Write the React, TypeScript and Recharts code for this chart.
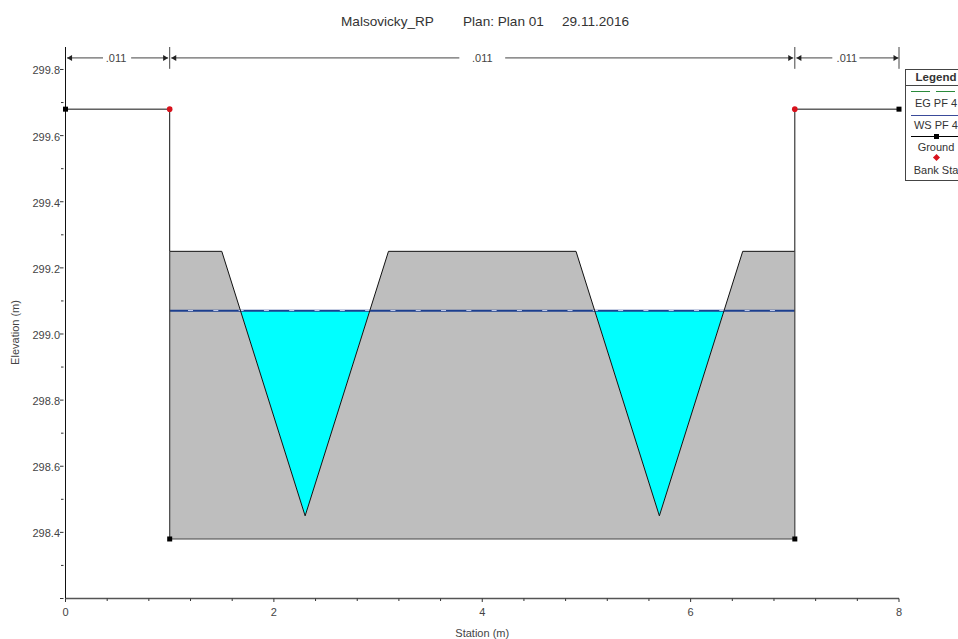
import React from 'react';
import { ComposedChart, Area, Line, XAxis, YAxis, ReferenceDot } from 'recharts';

const FONT = '"Liberation Sans", Arial, sans-serif';
const titleParts = [
  { left: 341, text: 'Malsovicky_RP' },
  { left: 463, text: 'Plan: Plan 01' },
  { left: 562, text: '29.11.2016' },
];

const xTicks = [0, 0.4, 0.8, 1.2, 1.6, 2, 2.4, 2.8, 3.2, 3.6, 4, 4.4, 4.8, 5.2, 5.6, 6, 6.4, 6.8, 7.2, 7.6, 8];
const xLabelled = [0, 2, 4, 6, 8];
const yTicks = [298.2, 298.3, 298.4, 298.5, 298.6, 298.7, 298.8, 298.9, 299, 299.1, 299.2, 299.3, 299.4, 299.5, 299.6, 299.7, 299.8];
const yLabelled = [298.4, 298.6, 298.8, 299, 299.2, 299.4, 299.6, 299.8];

const groundFill = [
  { x: 1, r: [298.38, 299.25] },
  { x: 1.5, r: [298.38, 299.25] },
  { x: 2.3, r: [298.38, 298.45] },
  { x: 3.1, r: [298.38, 299.25] },
  { x: 4.9, r: [298.38, 299.25] },
  { x: 5.7, r: [298.38, 298.45] },
  { x: 6.5, r: [298.38, 299.25] },
  { x: 7, r: [298.38, 299.25] },
];
const waterLeft = [
  { x: 1.68, r: [299.07, 299.07] },
  { x: 2.3, r: [298.45, 299.07] },
  { x: 2.92, r: [299.07, 299.07] },
];
const waterRight = [
  { x: 5.08, r: [299.07, 299.07] },
  { x: 5.7, r: [298.45, 299.07] },
  { x: 6.32, r: [299.07, 299.07] },
];
const groundTop = [
  { x: 0, y: 299.68 }, { x: 1, y: 299.68 }, { x: 1, y: 299.25 }, { x: 1.5, y: 299.25 },
  { x: 2.3, y: 298.45 }, { x: 3.1, y: 299.25 }, { x: 4.9, y: 299.25 }, { x: 5.7, y: 298.45 },
  { x: 6.5, y: 299.25 }, { x: 7, y: 299.25 }, { x: 7, y: 299.68 }, { x: 8, y: 299.68 },
];
const groundEdge = [
  { x: 1, y: 299.25 }, { x: 1, y: 298.38 }, { x: 7, y: 298.38 }, { x: 7, y: 299.25 },
];
const groundMarkers = [
  { x: 0, y: 299.68 }, { x: 8, y: 299.68 }, { x: 1, y: 298.38 }, { x: 7, y: 298.38 },
];
const bankMarkers = [{ x: 1, y: 299.68 }, { x: 7, y: 299.68 }];
const wsLine = [{ x: 1, y: 299.07 }, { x: 7, y: 299.07 }];
const egLine = [{ x: 1.176, y: 299.071 }, { x: 7, y: 299.071 }];

const ROW_Y = 299.835;
const nLabels = [{ x: 0.485, text: '.011' }, { x: 4, text: '.011' }, { x: 7.5, text: '.011' }];
const nDividers = [1, 7, 8];
const nSegments = [
  [0.015, 0.36], [0.63, 0.985], [1.015, 3.78], [4.22, 6.985], [7.015, 7.36], [7.62, 7.995],
];

const legendRows = ['EG PF 4', 'WS PF 4', 'Ground', 'Bank Sta'];

const Square = (p: any) => <rect key={p.index} x={p.cx - 2.5} y={p.cy - 2.5} width={5} height={5} fill="#000" />;
const Bank = (p: any) => <circle key={p.index} cx={p.cx} cy={p.cy} r={2.8} fill="#d8121c" />;
const arrow = (p: any) => {
  const dir = p.index === 0 ? 1 : -1;
  const tip = p.payload.tipLeft ? -1 : 1;
  if ((tip === -1 && dir !== 1) || (tip === 1 && dir !== -1)) return <g key={p.index} />;
  return <path key={p.index} d={`M${p.cx} ${p.cy}l${-tip * 5} -3v6z`} fill="#222" />;
};

const XTick = (p: any) => {
  const v = p.payload.value;
  const major = xLabelled.includes(v);
  return (
    <g>
      <line x1={p.x} x2={p.x} y1={598.5} y2={major ? 602 : 601} stroke="#333" />
      {major && <text x={p.x} y={616} textAnchor="middle" fontSize={11} fill="#444" fontFamily={FONT}>{v}</text>}
    </g>
  );
};
const YTick = (p: any) => {
  const v = p.payload.value;
  const major = yLabelled.includes(v);
  const edge = Number(v) === 298.2 || major;
  return (
    <g>
      <line x1={p.x + 6} x2={edge ? p.x + 2.5 : p.x + 3.5} y1={p.y} y2={p.y} stroke="#333" />
      {major && <text x={60} y={p.y + 5} textAnchor="end" fontSize={11} fill="#444" fontFamily={FONT}>{v.toFixed(1)}</text>}
    </g>
  );
};
const ElevationLabel = () => (
  <text transform="rotate(-90 15 332.5)" x={15} y={336} textAnchor="middle" fontSize={11} fill="#444" fontFamily={FONT}>Elevation (m)</text>
);

const LegendBox = () => (
  <div style={{ position: 'absolute', left: 905, top: 69, width: 62, height: 112, boxSizing: 'border-box', border: '1px solid #444', background: '#fff', fontFamily: FONT, fontSize: 11, color: '#333', whiteSpace: 'nowrap' }}>
    <div style={{ position: 'absolute', left: 0, right: 0, top: 0, height: 15, borderBottom: '1px solid #444', textAlign: 'center', fontWeight: 700, fontSize: 11.5, lineHeight: '15px' }}>Legend</div>
    <div style={{ position: 'absolute', left: 5, width: 19, top: 21, borderTop: '1px solid #2a8a3a' }} />
    <div style={{ position: 'absolute', left: 30, width: 19, top: 21, borderTop: '1px solid #2a8a3a' }} />
    <div style={{ position: 'absolute', left: 0, right: 0, top: 27, textAlign: 'center' }}>{legendRows[0]}</div>
    <div style={{ position: 'absolute', left: 5, width: 52, top: 45, borderTop: '1px solid #3a4a9a' }} />
    <div style={{ position: 'absolute', left: 0, right: 0, top: 49, textAlign: 'center' }}>{legendRows[1]}</div>
    <div style={{ position: 'absolute', left: 5, width: 52, top: 66, borderTop: '1px solid #000' }} />
    <div style={{ position: 'absolute', left: 28, top: 64, width: 5, height: 5, background: '#000' }} />
    <div style={{ position: 'absolute', left: 0, right: 0, top: 71, textAlign: 'center' }}>{legendRows[2]}</div>
    <div style={{ position: 'absolute', left: 28, top: 85, width: 5, height: 5, background: '#d8121c', transform: 'rotate(45deg)' }} />
    <div style={{ position: 'absolute', left: 0, right: 0, top: 94, textAlign: 'center' }}>{legendRows[3]}</div>
  </div>
);

export default function App() {
  return (
    <div style={{ position: 'absolute', left: 0, top: 0, width: 958, height: 639, overflow: 'hidden', background: '#fff' }}>
      <ComposedChart width={958} height={639} margin={{ top: 47, right: 59, bottom: 0, left: 0 }} style={{ fontFamily: FONT }}>
        <XAxis
          type="number" dataKey="x" domain={[0, 8]} ticks={xTicks} interval={0} height={40.5}
          tick={XTick} tickLine={false} axisLine={{ stroke: '#555', strokeWidth: 1.5 }}
          allowDuplicatedCategory
          label={{ value: 'Station (m)', position: 'insideBottom', offset: 2, fontSize: 11, fill: '#444' }}
        />
        <YAxis
          type="number" domain={[298.2, 299.868]} ticks={yTicks} interval={0} width={65.5}
          tick={YTick} tickLine={false} axisLine={{ stroke: '#111' }} allowDataOverflow
          label={<ElevationLabel />}
        />
        <Area data={groundFill} dataKey="r" type="linear" fill="#bebebe" fillOpacity={1} stroke="none" isAnimationActive={false} dot={false} activeDot={false} />
        <Area data={waterLeft} dataKey="r" type="linear" fill="#00ffff" fillOpacity={1} stroke="none" isAnimationActive={false} dot={false} activeDot={false} />
        <Area data={waterRight} dataKey="r" type="linear" fill="#00ffff" fillOpacity={1} stroke="none" isAnimationActive={false} dot={false} activeDot={false} />
        <Line data={wsLine} dataKey="y" type="linear" stroke="#1c3f8f" strokeWidth={2} dot={false} activeDot={false} isAnimationActive={false} />
        <Line data={egLine} dataKey="y" type="linear" stroke="#c4cdf0" strokeWidth={1} strokeDasharray="5 20.3" dot={false} activeDot={false} isAnimationActive={false} />
        <Line data={groundTop} dataKey="y" type="linear" stroke="#111" strokeWidth={1} dot={false} activeDot={false} isAnimationActive={false} />
        <Line data={groundEdge} dataKey="y" type="linear" stroke="#444" strokeWidth={1.2} dot={false} activeDot={false} isAnimationActive={false} />
        {nDividers.map((d) => (
          <Line key={`d${d}`} data={[{ x: d, y: 299.868 }, { x: d, y: 299.802 }]} dataKey="y" type="linear" stroke="#444" strokeWidth={1} dot={false} activeDot={false} isAnimationActive={false} />
        ))}
        {nSegments.map(([a, b], i) => (
          <Line
            key={`s${i}`}
            data={[{ x: a, y: ROW_Y, tipLeft: i % 2 === 0 }, { x: b, y: ROW_Y, tipLeft: i % 2 === 0 }]}
            dataKey="y" type="linear" stroke="#444" strokeWidth={1} dot={arrow} activeDot={false} isAnimationActive={false}
          />
        ))}
        {nLabels.map((l) => (
          <ReferenceDot key={l.x} x={l.x} y={ROW_Y} r={0} fill="none" stroke="none" label={{ value: l.text, position: 'center', fontSize: 11, fill: '#444' }} />
        ))}
        <Line data={groundMarkers} dataKey="y" type="linear" stroke="none" dot={Square} activeDot={false} isAnimationActive={false} />
        <Line data={bankMarkers} dataKey="y" type="linear" stroke="none" dot={Bank} activeDot={false} isAnimationActive={false} />
      </ComposedChart>
      {titleParts.map((t) => (
        <div key={t.left} style={{ position: 'absolute', left: t.left, top: 14, fontFamily: FONT, fontSize: 13.6, color: '#333', whiteSpace: 'pre' }}>{t.text}</div>
      ))}
      <LegendBox />
    </div>
  );
}
